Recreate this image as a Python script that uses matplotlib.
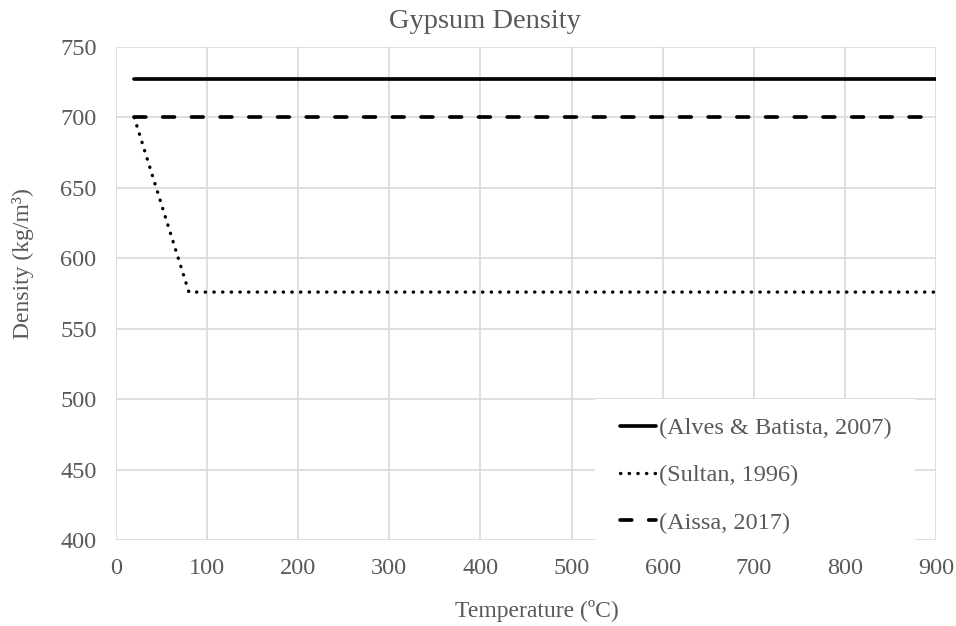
import matplotlib
matplotlib.use("Agg")
import matplotlib.pyplot as plt
from matplotlib.patches import Rectangle

# data
alves_t = [20, 900]
alves_rho = [727, 727]
sultan_t = [20, 80, 900]
sultan_rho = [700, 576, 576]
aissa_t = [20, 900]
aissa_rho = [700, 700]

x_ticks = [0, 100, 200, 300, 400, 500, 600, 700, 800, 900]
y_ticks = [400, 450, 500, 550, 600, 650, 700, 750]

plt.rcParams["font.family"] = ["Liberation Serif", "DejaVu Serif"]
grey = "#595959"
W, H = 956, 626

fig = plt.figure(figsize=(9.56, 6.26), dpi=100)
ax = fig.add_axes([116 / W, 1 - 540 / H, 820 / W, 493 / H])

ax.plot(alves_t, alves_rho, color="black", lw=2.65, solid_capstyle="round",
        label="(Alves & Batista, 2007)", zorder=3)
ax.plot(sultan_t, sultan_rho, color="black", lw=2.4, linestyle=(0, (0.1, 2.5)),
        dash_capstyle="round", label="(Sultan, 1996)", zorder=3)
ax.plot(aissa_t, aissa_rho, color="black", lw=2.65, linestyle=(0, (3.2, 4.6)),
        dash_capstyle="round", label="(Aissa, 2017)", zorder=3)

ax.set_xlim(0, 900)
ax.set_ylim(400, 750)
ax.set_xticks(x_ticks)
ax.set_yticks(y_ticks)
ax.grid(True, color="#d9d9d9", lw=1.2)
ax.set_axisbelow(True)
for s in ax.spines.values():
    s.set_visible(False)
ax.tick_params(length=0, labelsize=17.5, labelcolor=grey)
ax.tick_params(axis="y", pad=14)
ax.tick_params(axis="x", pad=13)

# white box behind the legend, hiding the grid there
box = Rectangle((595 / W, 1 - 546 / H), 320 / W, 147 / H, transform=fig.transFigure,
                facecolor="white", edgecolor="none", zorder=2)
fig.add_artist(box)

leg = fig.legend(*ax.get_legend_handles_labels(), loc="upper left",
                 bbox_to_anchor=(620 / W, 1 - 417 / H), bbox_transform=fig.transFigure,
                 frameon=False, fontsize=17.5, handlelength=1.5, handletextpad=0.1,
                 labelspacing=1.04, borderpad=0, borderaxespad=0)
leg.set_zorder(4)
for t in leg.get_texts():
    t.set_color(grey)

fig.text(485 / W, 1 - 28 / H, "Gypsum Density", fontsize=20.5, color=grey,
         ha="center", va="baseline")
fig.text(537 / W, 1 - 617 / H, "Temperature (ºC)", fontsize=17, color=grey,
         ha="center", va="baseline")
fig.text(23 / W, 1 - 264 / H, "Density (kg/m³)", fontsize=17, color=grey,
         ha="center", va="center", rotation=90)

fig.savefig("out.png", dpi=100)
